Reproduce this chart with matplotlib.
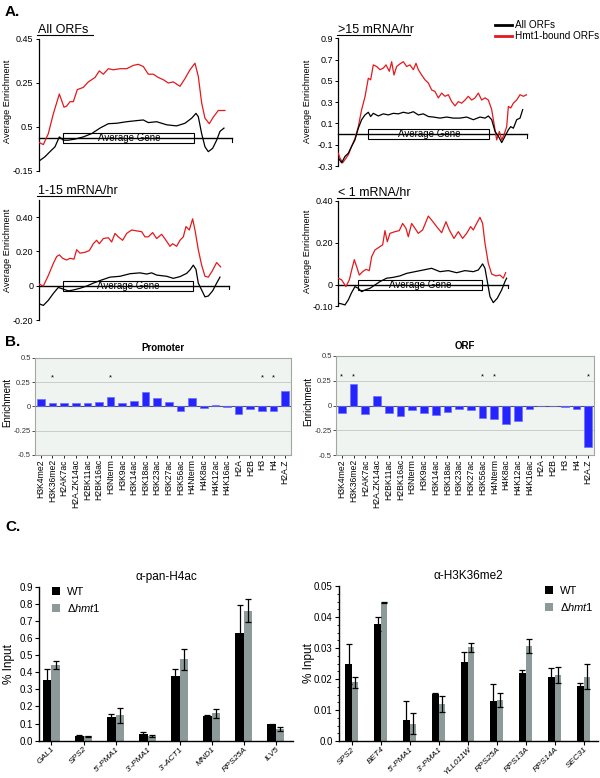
import matplotlib
matplotlib.use('Agg')
import matplotlib.pyplot as plt
from matplotlib.patches import Rectangle, Patch
from matplotlib.lines import Line2D
from matplotlib.ticker import MultipleLocator

plt.rcParams['font.family'] = ['Liberation Sans', 'DejaVu Sans']
plt.rcParams['mathtext.fontset'] = 'custom'
plt.rcParams['mathtext.rm'] = 'Liberation Sans'
plt.rcParams['mathtext.it'] = 'Liberation Sans:italic'

# ---------------- Panel A data (meta-gene profiles) ----------------
a1_red_pos = [0,13,28,43,53,61,68,75,83,93,103,115,133,148,168,181,193,208,223,243,263,283,298,313,328,343,358,373,388,403,423,438,453,468,478,488,498,511,523,538,558]
a1_red_val = [-0.02,-0.03,0.02,0.11,0.16,0.20,0.17,0.14,0.145,0.165,0.165,0.22,0.23,0.255,0.275,0.305,0.29,0.315,0.31,0.315,0.315,0.33,0.335,0.325,0.29,0.29,0.275,0.265,0.25,0.255,0.235,0.27,0.31,0.34,0.28,0.16,0.09,0.065,0.095,0.125,0.125]
a1_blk_pos = [0,18,33,48,61,73,88,108,133,158,183,208,233,263,293,313,328,353,383,413,438,458,471,478,488,498,508,521,533,543,555]
a1_blk_val = [-0.105,-0.085,-0.062,-0.04,0.005,-0.01,-0.01,-0.005,0.005,0.02,0.045,0.065,0.067,0.074,0.079,0.082,0.07,0.074,0.06,0.055,0.067,0.09,0.112,0.097,0.02,-0.04,-0.062,-0.047,-0.01,0.03,0.045]

a2_red_pos = [0,5,13,20,30,40,50,60,70,80,90,97,105,115,125,135,143,153,160,167,175,185,195,205,215,225,233,240,250,260,270,280,290,300,310,320,330,340,350,360,370,380,390,400,410,420,430,440,450,460,470,475,483,490,497,505,510,517,525,535,545,555,565]
a2_red_val = [-0.18,-0.225,-0.27,-0.24,-0.195,-0.115,-0.04,0.07,0.23,0.35,0.525,0.51,0.65,0.635,0.605,0.62,0.65,0.59,0.68,0.555,0.635,0.66,0.68,0.635,0.65,0.605,0.665,0.605,0.555,0.51,0.48,0.415,0.40,0.34,0.385,0.355,0.37,0.305,0.265,0.305,0.29,0.32,0.355,0.32,0.34,0.385,0.32,0.34,0.32,0.23,0.04,-0.055,0.025,-0.055,-0.005,0.07,0.26,0.245,0.29,0.32,0.37,0.355,0.37]
a2_blk_pos = [0,10,20,30,40,50,60,70,80,90,97,105,120,135,150,165,180,195,210,225,240,255,270,285,305,325,345,365,385,405,425,440,450,460,470,480,490,500,510,517,525,535,545,553]
a2_blk_val = [-0.225,-0.27,-0.21,-0.18,-0.115,-0.055,0.055,0.135,0.18,0.205,0.165,0.195,0.17,0.19,0.18,0.195,0.19,0.205,0.195,0.21,0.18,0.19,0.165,0.16,0.15,0.16,0.15,0.15,0.16,0.135,0.16,0.15,0.17,0.135,0.025,-0.02,-0.08,-0.02,0.04,0.07,0.055,0.135,0.15,0.23]

a3_red_pos = [0,13,28,43,53,61,71,83,93,105,113,123,138,151,163,173,181,193,208,218,228,238,251,263,278,293,308,318,328,341,353,368,381,393,401,413,423,433,441,451,461,468,478,488,498,508,518,533,545]
a3_red_val = [0.01,-0.002,0.06,0.13,0.17,0.18,0.16,0.15,0.16,0.155,0.21,0.19,0.195,0.205,0.245,0.265,0.245,0.275,0.28,0.255,0.305,0.285,0.265,0.305,0.325,0.32,0.315,0.285,0.285,0.31,0.275,0.30,0.265,0.23,0.245,0.23,0.265,0.285,0.345,0.325,0.39,0.325,0.21,0.12,0.055,0.05,0.08,0.135,0.11]
a3_blk_pos = [0,13,28,43,58,73,88,103,123,143,163,183,213,243,273,303,323,338,353,383,403,423,443,453,463,471,478,488,498,508,521,533,543]
a3_blk_val = [-0.105,-0.115,-0.085,-0.045,-0.01,-0.02,-0.03,-0.025,-0.015,-0.002,0.015,0.03,0.05,0.055,0.07,0.075,0.068,0.075,0.062,0.055,0.043,0.053,0.072,0.092,0.12,0.095,0.015,-0.025,-0.065,-0.06,-0.03,0.015,0.05]

a4_red_pos = [0,10,23,33,40,48,55,63,73,83,93,100,110,125,133,140,147,155,170,183,193,203,210,220,230,240,253,270,280,295,310,323,333,347,360,373,385,397,405,415,425,433,440,450,460,473,485,495,502]
a4_red_val = [0.032,0.024,-0.008,0.024,0.07,0.12,0.087,0.047,0.063,0.074,0.068,0.134,0.166,0.182,0.19,0.258,0.205,0.245,0.253,0.258,0.292,0.269,0.229,0.292,0.269,0.245,0.261,0.327,0.308,0.277,0.248,0.30,0.261,0.221,0.253,0.221,0.245,0.277,0.261,0.292,0.321,0.292,0.198,0.103,0.052,0.043,0.047,0.032,0.058]
a4_blk_pos = [0,10,20,30,40,50,60,70,80,95,110,125,145,165,185,205,230,255,280,305,330,355,380,405,420,433,440,448,455,465,477,490,500,505]
a4_blk_val = [-0.087,-0.09,-0.095,-0.071,-0.036,-0.008,-0.016,-0.032,-0.024,-0.016,0.0,0.016,0.032,0.036,0.043,0.055,0.063,0.071,0.079,0.063,0.068,0.058,0.068,0.063,0.071,0.10,0.079,0.008,-0.055,-0.084,-0.063,-0.024,0.016,0.032]

a_titles = ['All ORFs', '>15 mRNA/hr', '1-15 mRNA/hr', '< 1 mRNA/hr']
a_gene_start = [73, 90, 71, 60]
a_gene_end = [466, 453, 463, 432]
a_profile_end = [580, 565, 571, 510]
a_ylims = [(-0.15, 0.45), (-0.3, 0.9), (-0.2, 0.5), (-0.1, 0.4)]
a_ticks = [[-0.15, 0.05, 0.25, 0.45], [-0.3, -0.1, 0.1, 0.3, 0.5, 0.7, 0.9], [-0.2, 0, 0.2, 0.4], [-0.1, 0, 0.2, 0.4]]
a_ticklabels = [['-0.15', '0.5', '0.25', '0.45'], ['-0.3', '-0.1', '0.1', '0.3', '0.5', '0.7', '0.9'], ['-0.20', '0', '0.20', '0.40'], ['-0.10', '0', '0.20', '0.40']]
legend_labels = ['All ORFs', 'Hmt1-bound ORFs']

# ---------------- Panel B data ----------------
marks = ['H3K4me2','H3K36me2','H2AK7ac','H2A.ZK14ac','H2BK11ac','H2BK16ac','H3Nterm','H3K9ac','H3K14ac','H3K18ac','H3K23ac','H3K27ac','H3K56ac','H4Nterm','H4K8ac','H4K12ac','H4K16ac','H2A','H2B','H3','H4','H2A.Z']
promoter_vals = [0.072,0.034,0.038,0.031,0.034,0.044,0.099,0.038,0.058,0.144,0.089,0.041,-0.051,0.082,-0.017,0.01,-0.003,-0.075,-0.027,-0.051,-0.044,0.154]
orf_vals = [-0.075,0.222,-0.082,0.099,-0.075,-0.103,-0.048,-0.072,-0.096,-0.068,-0.031,-0.044,-0.127,-0.137,-0.185,-0.154,-0.031,0.0,0.0,-0.014,-0.034,-0.417]
promoter_sig = ['H3K36me2','H3Nterm','H3','H4']
orf_sig = ['H3K4me2','H3K36me2','H3K56ac','H4Nterm','H2A.Z']

# ---------------- Panel C data ----------------
h4_loci = ['GAL1','SPS2',"5'-PMA1","3'-PMA1","3'-ACT1",'MND1','RPS25A','ILV5']
h4_wt = [0.355,0.030,0.140,0.040,0.380,0.143,0.630,0.095]
h4_wt_err = [0.062,0.005,0.015,0.012,0.038,0.010,0.165,0.004]
h4_del = [0.442,0.025,0.148,0.028,0.475,0.160,0.760,0.068]
h4_del_err = [0.025,0.003,0.045,0.004,0.060,0.028,0.068,0.012]

k36_loci = ['SPS2','BET4',"5'-PMA1","3'-PMA1",'YLL011W','RPS25A','RPS13A','RPS14A','SEC31']
k36_wt = [0.0248,0.0377,0.0067,0.0153,0.0256,0.0129,0.0220,0.0205,0.0177]
k36_wt_err = [0.0064,0.0022,0.0063,0.0002,0.0031,0.0055,0.0009,0.0032,0.0009]
k36_del = [0.0189,0.0446,0.0056,0.0120,0.0302,0.0133,0.0306,0.0213,0.0207]
k36_del_err = [0.0018,0.0002,0.0035,0.0025,0.0015,0.0023,0.0022,0.0025,0.0040]
strains = ['WT', r'$\Delta\mathit{hmt1}$']

RED = '#e3191c'
GREY = '#8c9b99'
W, H = 600, 778
fig = plt.figure(figsize=(6, 7.78), dpi=100)


def add_ax(l, t, r, b):
    return fig.add_axes([l / W, 1 - b / H, (r - l) / W, (b - t) / H])


def ftext(x, y, s, **kw):
    fig.text(x / W, 1 - y / H, s, **kw)


def fline(x0, x1, y, **kw):
    fig.add_artist(Line2D([x0 / W, x1 / W], [1 - y / H, 1 - y / H], transform=fig.transFigure, **kw))


# ---------------- Panel A ----------------
a_rects = [(39, 39, 232.3, 171), (338.3, 38.3, 526.7, 166), (39, 200, 229.3, 320), (338.3, 200.7, 508.3, 306)]
a_title_xy = [(38, 33, 93), (338, 33, 410), (38, 194, 110), (338, 196, 401)]
a_label_x = [12, 312, 12, 312]
a_label_y = [0.53, 0.51, 0.58, 0.52]
profiles = [(a1_red_pos, a1_red_val, a1_blk_pos, a1_blk_val),
            (a2_red_pos, a2_red_val, a2_blk_pos, a2_blk_val),
            (a3_red_pos, a3_red_val, a3_blk_pos, a3_blk_val),
            (a4_red_pos, a4_red_val, a4_blk_pos, a4_blk_val)]

for i in range(4):
    l, t, r, b = a_rects[i]
    ax = add_ax(l, t, r, b)
    rp, rv, bp, bv = profiles[i]
    ylo, yhi = a_ylims[i]
    ax.set_xlim(0, a_profile_end[i])
    ax.set_ylim(ylo, yhi)
    per_px = (yhi - ylo) / (b - t)
    # baseline and average gene box
    ax.plot([0, a_profile_end[i]], [0, 0], color='black', lw=1.0, zorder=2, clip_on=False)
    ax.plot([a_profile_end[i]] * 2, [0, -3.5 * per_px], color='black', lw=0.8, clip_on=False)
    hh = 5.2 * per_px
    ax.add_patch(Rectangle((a_gene_start[i], -hh), a_gene_end[i] - a_gene_start[i], 2 * hh,
                           facecolor='white', edgecolor='black', lw=0.8, zorder=1.5))
    ax.text((a_gene_start[i] + a_gene_end[i]) / 2, 0, 'Average Gene', ha='center', va='center',
            fontsize=7, zorder=1.8)
    ax.plot(rp, rv, color=RED, lw=0.9, zorder=3)
    ax.plot(bp, bv, color='black', lw=0.9, zorder=3)
    for s in ['top', 'right', 'bottom']:
        ax.spines[s].set_visible(False)
    ax.spines['left'].set_linewidth(0.9)
    ax.set_xticks([])
    ax.set_yticks(a_ticks[i])
    ax.set_yticklabels(a_ticklabels[i])
    ax.tick_params(axis='y', labelsize=6.5, length=2.5, width=0.7, pad=1.5)
    ax.set_ylabel('Average Enrichment', fontsize=6.6)
    ax.yaxis.set_label_coords((a_label_x[i] - l) / (r - l), a_label_y[i])
    tx, ty, ux = a_title_xy[i]
    ftext(tx, ty, a_titles[i], fontsize=9, ha='left', va='baseline')
    fline(tx - 1, ux, ty + 1.5, color='black', lw=0.8)

# legend A
for j, (col, lab) in enumerate(zip(['black', RED], legend_labels)):
    yy = 25 + j * 11
    fline(495, 512, yy, color=col, lw=2.0)
    ftext(515, yy, lab, fontsize=7.2, va='center', ha='left')

ftext(5, 12, 'A.', fontsize=11, fontweight='bold', va='center')
ftext(5, 342, 'B.', fontsize=11, fontweight='bold', va='center')
ftext(5, 527, 'C.', fontsize=11, fontweight='bold', va='center')

# ---------------- Panel B ----------------
b_rects = [(35, 357.7, 291, 455), (336, 356, 594, 455)]
b_titles = ['Promoter', 'ORF']
b_vals = [promoter_vals, orf_vals]
b_sig = [promoter_sig, orf_sig]
b_label_x = [12, 313]
for k in range(2):
    l, t, r, b = b_rects[k]
    ax = add_ax(l, t, r, b)
    ax.set_facecolor('#f0f4f0')
    xs = list(range(len(marks)))
    ax.axhline(0.25, color='#c9cdc9', lw=0.7, zorder=0)
    ax.axhline(-0.25, color='#c9cdc9', lw=0.7, zorder=0)
    ax.bar(xs, b_vals[k], width=0.66, color='#2424ff', edgecolor='#6f6fff', lw=0.5, zorder=2)
    ax.axhline(0, color='#555555', lw=0.8, zorder=1)
    for name in b_sig[k]:
        ax.text(marks.index(name), 0.29, '*', ha='center', va='center', fontsize=5.5)
    ax.set_xlim(-0.5, len(marks) - 0.5)
    ax.set_ylim(-0.5, 0.5)
    ax.set_yticks([-0.5, -0.25, 0, 0.25, 0.5])
    ax.set_yticklabels(['-0.5', '-0.25', '0', '0.25', '0.5'])
    ax.set_xticks(xs)
    ax.set_xticklabels(marks, rotation=90, fontsize=6.2)
    ax.tick_params(axis='y', labelsize=5.5, length=2, width=0.6, pad=1, colors='#333333')
    ax.tick_params(axis='x', length=2, width=0.6, pad=1)
    for s in ax.spines.values():
        s.set_color('#a0a8a0')
        s.set_linewidth(0.8)
    ax.set_ylabel('Enrichment', fontsize=7)
    ax.yaxis.set_label_coords((b_label_x[k] - l) / (r - l), 0.54)
    ax.set_title(b_titles[k], fontsize=7, fontweight='bold', pad=5)

# ---------------- Panel C ----------------
c_rects = [(39, 586.7, 293, 740.7), (339, 586, 597.7, 741)]
c_sets = [(h4_loci, h4_wt, h4_wt_err, h4_del, h4_del_err),
          (k36_loci, k36_wt, k36_wt_err, k36_del, k36_del_err)]
c_titles = ['\u03b1-pan-H4ac', '\u03b1-H3K36me2']
c_width = [0.26, 0.22]
c_xlim = [(-0.39, 7.54), (-0.44, 8.49)]
c_ylim = [(0, 0.9), (0, 0.05)]
c_leg = [(0.035, 1.03), (0.78, 1.03)]
c_label_x = [15, 315]
for k in range(2):
    l, t, r, b = c_rects[k]
    ax = add_ax(l, t, r, b)
    loci, wt, wte, de, dee = c_sets[k]
    xs = list(range(len(loci)))
    w = c_width[k]
    ek = dict(ecolor='black', elinewidth=0.9, capsize=2, capthick=0.9)
    ax.bar([x - w / 2 for x in xs], wt, width=w, color='black', yerr=wte, error_kw=ek, label=strains[0])
    ax.bar([x + w / 2 for x in xs], de, width=w, color=GREY, yerr=dee, error_kw=ek, label=strains[1])
    ax.set_xlim(*c_xlim[k])
    ax.set_ylim(*c_ylim[k])
    ax.set_xticks(xs)
    ax.set_xticklabels(loci, rotation=45, ha='right', rotation_mode='anchor', fontsize=6.0, style='italic')
    for s in ['top', 'right']:
        ax.spines[s].set_visible(False)
    ax.spines['left'].set_linewidth(1.0)
    ax.spines['bottom'].set_linewidth(1.0)
    if k == 0:
        ax.set_yticks([i / 10 for i in range(10)])
        ax.set_yticklabels(['%.1f' % (i / 10) for i in range(10)])
    else:
        ax.set_yticks([0, 0.01, 0.02, 0.03, 0.04, 0.05])
        ax.set_yticklabels(['0.0', '0.01', '0.02', '0.03', '0.04', '0.05'])
        ax.yaxis.set_minor_locator(MultipleLocator(0.0025))
    ax.tick_params(axis='y', labelsize=7, length=3, width=0.8, pad=1.5)
    ax.tick_params(axis='x', labelsize=6.0, length=3, width=0.8, pad=0.5)
    ax.tick_params(axis='y', which='minor', length=1.5, width=0.6)
    ax.set_ylabel('% Input', fontsize=8.5)
    ax.yaxis.set_label_coords((c_label_x[k] - l) / (r - l), 0.5)
    ax.set_title(c_titles[k], fontsize=8.5, pad=5)
    ax.legend(frameon=False, loc='upper left', bbox_to_anchor=c_leg[k], fontsize=8,
              handlelength=0.7, handleheight=0.7, handletextpad=0.6, labelspacing=0.45,
              borderaxespad=0)

fig.savefig('out.png', dpi=100, facecolor='white')
